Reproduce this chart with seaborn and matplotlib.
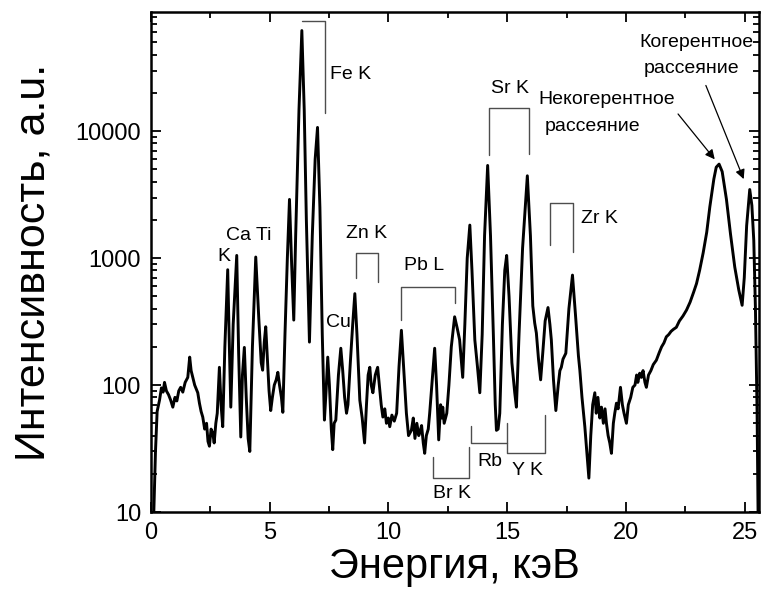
import numpy as np
import pandas as pd
import matplotlib
matplotlib.use("Agg")
import matplotlib.pyplot as plt
import seaborn as sns
from matplotlib.ticker import LogLocator, NullFormatter

# Spectrum (energy in keV, intensity in a.u.)
energy = [
    0.13, 0.2, 0.27, 0.37, 0.45, 0.52, 0.58, 0.66, 0.75, 0.84, 0.93, 1.02, 1.1, 1.18,
    1.26, 1.35, 1.45, 1.56, 1.64, 1.7, 1.77, 1.85, 1.98, 2.05, 2.12, 2.19, 2.27, 2.35,
    2.41, 2.47, 2.54, 2.61, 2.67, 2.74, 2.8, 2.89, 2.96, 3.03, 3.12, 3.24, 3.31, 3.37,
    3.47, 3.62, 3.7, 3.79, 3.86, 3.94, 4.02, 4.1, 4.17, 4.28, 4.42, 4.55, 4.65, 4.71,
    4.78, 4.84, 4.92, 4.98, 5.05, 5.12, 5.2, 5.28, 5.35, 5.42, 5.5, 5.56, 5.65, 5.75,
    5.84, 5.93, 6.02, 6.1, 6.24, 6.36, 6.46, 6.55, 6.68, 6.8, 6.92, 7.02, 7.12, 7.22,
    7.31, 7.38, 7.45, 7.52, 7.6, 7.66, 7.72, 7.79, 7.9, 8.0, 8.08, 8.16, 8.24, 8.3,
    8.4, 8.5, 8.59, 8.68, 8.8, 8.9, 9.0, 9.08, 9.15, 9.22, 9.28, 9.35, 9.45, 9.55,
    9.62, 9.7, 9.77, 9.85, 9.92, 10.0, 10.06, 10.15, 10.25, 10.35, 10.45, 10.55, 10.65,
    10.76, 10.85, 10.97, 11.05, 11.12, 11.2, 11.28, 11.32, 11.4, 11.47, 11.53, 11.6,
    11.68, 11.74, 11.85, 11.95, 12.03, 12.12, 12.2, 12.25, 12.29, 12.35, 12.46, 12.55,
    12.65, 12.79, 12.9, 13.0, 13.08, 13.13, 13.22, 13.32, 13.43, 13.52, 13.64, 13.75,
    13.85, 13.95, 14.05, 14.18, 14.3, 14.42, 14.5, 14.55, 14.62, 14.69, 14.8, 14.9,
    14.98, 15.08, 15.2, 15.32, 15.39, 15.5, 15.65, 15.85, 15.98, 16.08, 16.16, 16.23,
    16.32, 16.41, 16.5, 16.6, 16.72, 16.8, 16.86, 16.95, 17.05, 17.15, 17.22, 17.28,
    17.35, 17.47, 17.6, 17.75, 17.88, 18.0, 18.06, 18.15, 18.27, 18.35, 18.44, 18.52,
    18.6, 18.69, 18.75, 18.82, 18.9, 18.97, 19.05, 19.12, 19.18, 19.25, 19.32, 19.39,
    19.47, 19.53, 19.6, 19.67, 19.77, 19.85, 19.92, 20.02, 20.1, 20.2, 20.29, 20.38,
    20.45, 20.5, 20.58, 20.65, 20.72, 20.8, 20.86, 20.95, 21.05, 21.15, 21.28, 21.4,
    21.5, 21.6, 21.7, 21.8, 21.9, 22.0, 22.12, 22.25, 22.4, 22.55, 22.7, 22.85, 22.97,
    23.1, 23.25, 23.4, 23.53, 23.7, 23.8, 23.92, 24.05, 24.23, 24.4, 24.58, 24.75,
    24.89, 24.98, 25.08, 25.21, 25.3, 25.38, 25.45, 25.52, 25.56,
]
intensity = [
    10, 30, 62, 76, 95, 88, 105, 90, 84, 76, 67, 80, 75, 90,
    96, 88, 105, 115, 166, 130, 115, 100, 87, 72, 62, 56, 45, 50,
    36, 33, 45, 42, 35, 50, 60, 138, 70, 47, 200, 810, 200, 67,
    300, 1050, 180, 39, 120, 198, 80, 38, 30, 200, 1020, 330, 150, 131,
    220, 288, 150, 90, 63, 80, 100, 110, 126, 100, 80, 61, 250, 1000,
    2900, 900, 325, 1500, 14800, 62000, 14800, 2000, 218, 1500, 6000, 10700, 2500, 250,
    53, 90, 166, 100, 45, 31, 50, 53, 120, 195, 130, 80, 60, 70,
    150, 300, 525, 250, 76, 55, 35, 70, 120, 138, 100, 87, 120, 138,
    100, 70, 56, 65, 50, 55, 47, 58, 52, 60, 140, 270, 130,
    60, 40, 44, 55, 38, 50, 40, 42, 48, 35, 29, 40,
    45, 60, 110, 195, 100, 37, 70, 55, 67, 50, 60, 100,
    200, 345, 280, 227, 150, 115, 300, 1000, 1820, 800, 227, 140,
    87, 250, 1500, 5370, 1500, 250, 70, 44, 45, 60, 300, 800,
    1050, 500, 150, 87, 67, 250, 1200, 4450, 1500, 420, 308, 257,
    160, 110, 180, 320, 408, 300, 227, 110, 63, 100, 130, 138,
    160, 178, 400, 735, 350, 170, 131, 80, 47, 30, 18.5, 40,
    70, 87, 60, 80, 55, 67, 50, 65, 50, 40, 35, 29,
    50, 60, 72, 65, 96, 70, 60, 50, 70, 80, 96, 100,
    120, 105, 124, 115, 130, 105, 96, 120, 130, 145, 157, 180,
    200, 215, 240, 250, 265, 275, 285, 320, 350, 390, 450, 540, 630,
    800, 1100, 1600, 2530, 4200, 5200, 5500, 4800, 2900, 1550, 850, 560,
    425, 700, 1800, 3470, 2600, 1380, 400, 60, 10,
]

# Element labels: text, x, y, horizontal alignment
peak_labels = ["K", "Ca Ti", "Cu", "Zn K", "Pb L", "Fe K", "Sr K", "Zr K", "Rb", "Y K", "Br K"]
peak_label_x = [3.07, 4.13, 7.88, 9.1, 11.5, 7.53, 15.1, 18.9, 14.27, 15.87, 12.7]
peak_label_y = [1030, 1520, 309, 1550, 870, 28000, 21800, 2040, 24.9, 21.4, 14.1]
peak_label_ha = ["center", "center", "center", "center", "center", "left", "center",
                 "center", "center", "center", "center"]

# Bracket polylines (energy, intensity) marking line groups
brackets = {
    "Fe K": ([6.36, 7.32, 7.32], [74000, 74000, 13800]),
    "Zn K": ([8.62, 8.62, 9.57, 9.57], [695, 1100, 1100, 650]),
    "Pb L": ([10.52, 10.52, 12.82, 12.82], [325, 592, 592, 444]),
    "Sr K": ([14.23, 14.23, 15.9, 15.9], [6450, 15100, 15100, 6580]),
    "Zr K": ([16.79, 16.79, 17.77, 17.77], [1260, 2720, 2720, 1120]),
    "Rb": ([13.46, 13.46, 15.01], [47.5, 34.8, 34.8]),
    "Y K": ([15.01, 15.01, 16.59, 16.59], [50, 29.2, 29.2, 58]),
    "Br K": ([11.86, 11.86, 13.4, 13.4], [27.2, 18.4, 18.4, 32.7]),
}

sns.set_style("ticks")
plt.rcParams["font.family"] = ["Liberation Sans", "DejaVu Sans"]
plt.rcParams["text.color"] = "black"
plt.rcParams["axes.labelcolor"] = "black"
plt.rcParams["xtick.color"] = "black"
plt.rcParams["ytick.color"] = "black"

fig = plt.figure(figsize=(7.69, 5.94), dpi=100)
ax = fig.add_axes([0.196, 0.138, 0.791, 0.842])

df = pd.DataFrame({"energy": energy, "intensity": intensity})
sns.lineplot(data=df, x="energy", y="intensity", ax=ax, color="black",
             lw=2.1, sort=False, estimator=None)

ax.set_yscale("log")
ax.set_xlim(0, 25.6)
ax.set_ylim(10, 87000)

for name, (bx, by) in brackets.items():
    ax.plot(bx, by, color="0.3", lw=1.0)

for txt, tx, ty, ha in zip(peak_labels, peak_label_x, peak_label_y, peak_label_ha):
    ax.text(tx, ty, txt, fontsize=14, ha=ha, va="center")

# scattering peaks with arrows
ax.text(16.33, 17800, "Некогерентное", fontsize=14, ha="left", va="center")
ax.text(16.58, 10900, "рассеяние", fontsize=14, ha="left", va="center")
ax.annotate("", xy=(23.81, 5770), xytext=(22.12, 14200),
            arrowprops=dict(arrowstyle="-|>", color="black", lw=0.9, mutation_scale=14))
ax.text(22.95, 50000, "Когерентное", fontsize=14, ha="center", va="center")
ax.text(22.75, 31000, "рассеяние", fontsize=14, ha="center", va="center")
ax.annotate("", xy=(25.0, 4000), xytext=(23.32, 24000),
            arrowprops=dict(arrowstyle="-|>", color="black", lw=0.9, mutation_scale=14))

ax.set_xticks([0, 5, 10, 15, 20, 25])
ax.set_xticks([2.5, 7.5, 12.5, 17.5, 22.5], minor=True)
ax.set_yticks([10, 100, 1000, 10000])
ax.set_yticklabels(["10", "100", "1000", "10000"])
ax.yaxis.set_minor_locator(LogLocator(base=10, subs=np.arange(2, 10)))
ax.yaxis.set_minor_formatter(NullFormatter())

ax.tick_params(which="both", direction="in", top=True, right=True, width=1.3)
ax.tick_params(which="major", length=7, labelsize=17, pad=7)
ax.tick_params(which="minor", length=4)
for sp in ax.spines.values():
    sp.set_linewidth(1.8)
    sp.set_color("black")

ax.set_xlabel("Энергия, кэВ", fontsize=30, labelpad=2)
ax.set_ylabel("Интенсивность, a.u.", fontsize=31, labelpad=16)

fig.savefig("out.png", dpi=100)
